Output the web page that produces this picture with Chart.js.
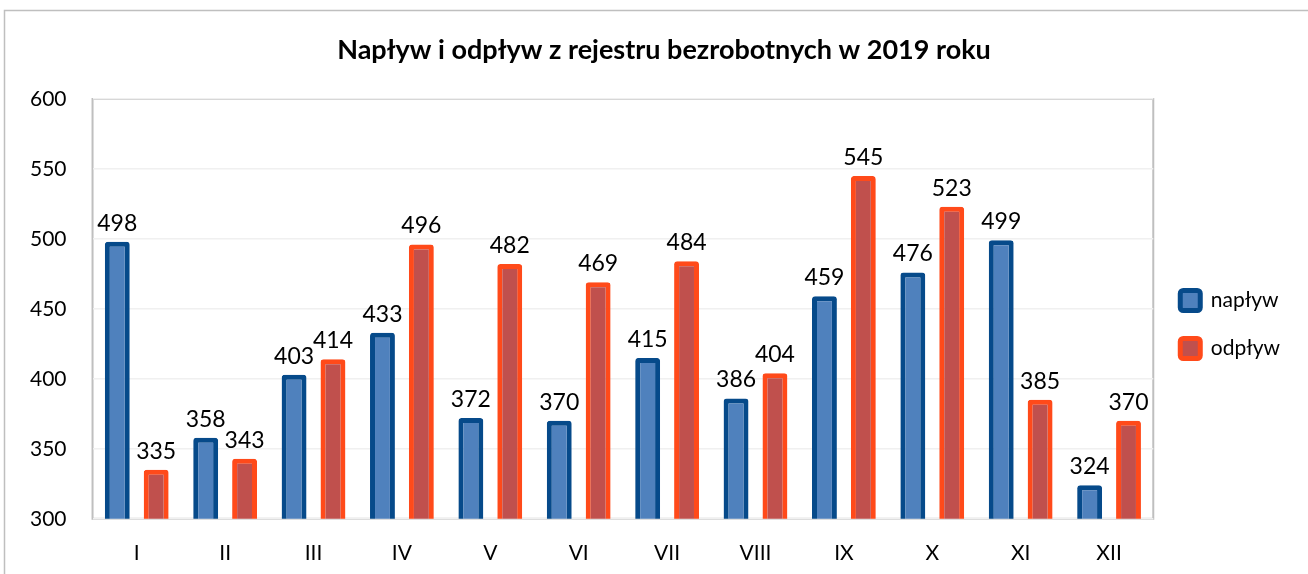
<html>
<head>
    <title>Napływ i odpływ</title>
    <style>
        body { margin: 0; background: #fff; }
        #wrap { position: relative; width: 1308px; height: 574px; }
    </style>
    <script src="https://cdn.jsdelivr.net/npm/chart.js"></script>
</head>
<body>
    <div id="wrap"><canvas id="flowChart" width="1308" height="574"></canvas></div>
    <script>
        var months = ['I', 'II', 'III', 'IV', 'V', 'VI', 'VII', 'VIII', 'IX', 'X', 'XI', 'XII'];
        var naplyw = [498, 358, 403, 433, 372, 370, 415, 386, 459, 476, 499, 324];
        var odplyw = [335, 343, 414, 496, 482, 469, 484, 404, 545, 523, 385, 370];
        var yTicks = [300, 350, 400, 450, 500, 550, 600];
        var chartTitle = 'Napływ i odpływ z rejestru bezrobotnych w 2019 roku';

        var FONT = 'Lato, "Open Sans", sans-serif';

        // frame of the whole chart and of the plot area, title, value labels
        var framePlugin = {
            id: 'frame',
            beforeDraw: function (chart) {
                var c = chart.ctx;
                c.save();
                c.strokeStyle = '#bfbfbf';
                c.lineWidth = 1.5;
                c.strokeRect(4.5, 10.5, 1400, 700);
                var a = chart.chartArea;
                c.strokeStyle = '#bfbfbf';
                c.lineWidth = 2;
                c.strokeRect(a.left, a.top, a.right - a.left, a.bottom - a.top);

                c.fillStyle = '#000';
                c.font = 'bold 27px ' + FONT;
                c.textAlign = 'center';
                c.textBaseline = 'middle';
                c.fillText(chartTitle, 664, 50);
                c.restore();
            },
            afterDatasetsDraw: function (chart) {
                var c = chart.ctx;
                c.save();
                c.fillStyle = '#000';
                c.font = '23px ' + FONT;
                c.textAlign = 'center';
                c.textBaseline = 'bottom';
                chart.data.datasets.forEach(function (ds, i) {
                    chart.getDatasetMeta(i).data.forEach(function (bar, j) {
                        c.fillText(ds.data[j], bar.x, bar.y - 7);
                    });
                });
                c.restore();
            }
        };

        var ctx = document.getElementById('flowChart').getContext('2d');
        var flowChart = new Chart(ctx, {
            type: 'bar',
            data: {
                labels: months,
                datasets: [
                    {
                        label: 'napływ',
                        data: naplyw,
                        backgroundColor: '#4f81bd',
                        borderColor: '#064a8a',
                        borderWidth: 5,
                        borderRadius: 3,
                        borderSkipped: false
                    },
                    {
                        label: 'odpływ',
                        data: odplyw,
                        backgroundColor: '#c0504d',
                        borderColor: '#ff4a1a',
                        borderWidth: 5,
                        borderRadius: 3,
                        borderSkipped: false
                    }
                ]
            },
            options: {
                responsive: false,
                animation: false,
                layout: { padding: { left: 4, right: 18, top: 99, bottom: -6 } },
                categoryPercentage: 0.88,
                barPercentage: 0.64,
                plugins: {
                    title: { display: false },
                    legend: {
                        position: 'right',
                        align: 'start',
                        title: {
                            display: true,
                            text: ' ',
                            font: { size: 10 },
                            padding: { top: 76, bottom: 76 }
                        },
                        labels: {
                            color: '#000',
                            font: { family: FONT, size: 21 },
                            boxWidth: 20,
                            boxHeight: 20,
                            padding: 27,
                            useBorderRadius: true,
                            borderRadius: 3
                        }
                    },
                    tooltip: { enabled: false }
                },
                scales: {
                    x: {
                        grid: { display: false },
                        border: { display: false },
                        ticks: {
                            color: '#000',
                            font: { family: FONT, size: 21 },
                            padding: 14
                        }
                    },
                    y: {
                        min: 300,
                        max: 600,
                        afterBuildTicks: function (axis) {
                            axis.ticks = yTicks.map(function (v) { return { value: v }; });
                        },
                        grid: { color: '#f0f0f0', lineWidth: 1.5, drawTicks: false },
                        border: { display: false },
                        ticks: {
                            color: '#000',
                            font: { family: FONT, size: 21 },
                            padding: 26
                        }
                    }
                }
            },
            plugins: [framePlugin]
        });
    </script>
</body>
</html>
